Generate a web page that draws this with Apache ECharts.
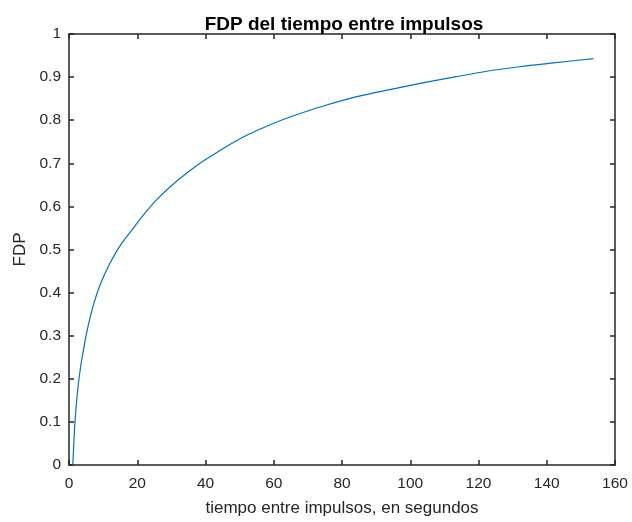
<!DOCTYPE html>
<html>
<head>
<meta charset="utf-8">
<script src="https://cdn.jsdelivr.net/npm/echarts@6/dist/echarts.min.js"></script>
<style>html,body{margin:0;padding:0;background:#fff;}#c{width:632px;height:522px;}</style>
</head>
<body>
<div id="c"></div>
<script>
var chartTitle = 'FDP del tiempo entre impulsos';
var xTitle = 'tiempo entre impulsos, en segundos';
var yTitle = 'FDP';
var xs = [1.1, 1.4, 1.75, 2.2, 2.7, 3.4, 4.2, 5.0, 6.0, 7.0, 8.2, 9.7, 12, 15, 18.8, 22, 26, 32.4, 38, 42.3, 47, 52.1, 60, 66.5, 75, 84, 94, 104, 113.5, 122, 132, 142, 153.7];
var ys = [0, 0.048, 0.1, 0.145, 0.185, 0.228, 0.265, 0.3, 0.336, 0.367, 0.398, 0.429, 0.468, 0.509, 0.549, 0.582, 0.618, 0.664, 0.698, 0.72, 0.743, 0.765, 0.793, 0.812, 0.834, 0.854, 0.871, 0.887, 0.901, 0.913, 0.924, 0.933, 0.943];

var pts = xs.map(function(x, i){ return [x, ys[i]]; });
var axCol = '#262626';
var font = 'Liberation Sans, Arial, sans-serif';
var chart = echarts.init(document.getElementById('c'));
function xAx(pos, show) {
  return {
    type: 'value', position: pos, min: 0, max: 160, interval: 20,
    name: show ? xTitle : '', nameLocation: 'middle', nameGap: 35,
    nameTextStyle: {color: axCol, fontSize: 17, fontFamily: font},
    axisLine: {show: true, onZero: false, lineStyle: {color: axCol, width: 1.5}},
    axisTick: {show: true, inside: true, length: 5, lineStyle: {color: axCol, width: 1.5}},
    axisLabel: {show: show, color: axCol, fontSize: 15.5, fontFamily: font, margin: 11},
    splitLine: {show: false}
  };
}
function yAx(pos, show) {
  return {
    type: 'value', position: pos, min: 0, max: 1, interval: 0.1,
    name: show ? yTitle : '', nameLocation: 'middle', nameGap: 36,
    nameTextStyle: {color: axCol, fontSize: 17, fontFamily: font},
    axisLine: {show: true, onZero: false, lineStyle: {color: axCol, width: 1.5}},
    axisTick: {show: true, inside: true, length: 5, lineStyle: {color: axCol, width: 1.5}},
    axisLabel: {show: show, color: axCol, fontSize: 15.5, fontFamily: font, margin: 8},
    splitLine: {show: false}
  };
}
chart.setOption({
  animation: false,
  backgroundColor: '#fff',
  title: {
    text: chartTitle, left: 339, top: 10, textAlign: 'center',
    textStyle: {color: '#000', fontSize: 19, fontWeight: 'bold', fontFamily: font}
  },
  grid: {left: 69, top: 34, width: 546, height: 432, containLabel: false},
  xAxis: [xAx('bottom', true), xAx('top', false)],
  yAxis: [yAx('left', true), yAx('right', false)],
  series: [{
    type: 'line', data: pts, xAxisIndex: 0, yAxisIndex: 0,
    showSymbol: false, smooth: 0.3,
    lineStyle: {color: '#0072BD', width: 1.2}
  }]
});
</script>
</body>
</html>
